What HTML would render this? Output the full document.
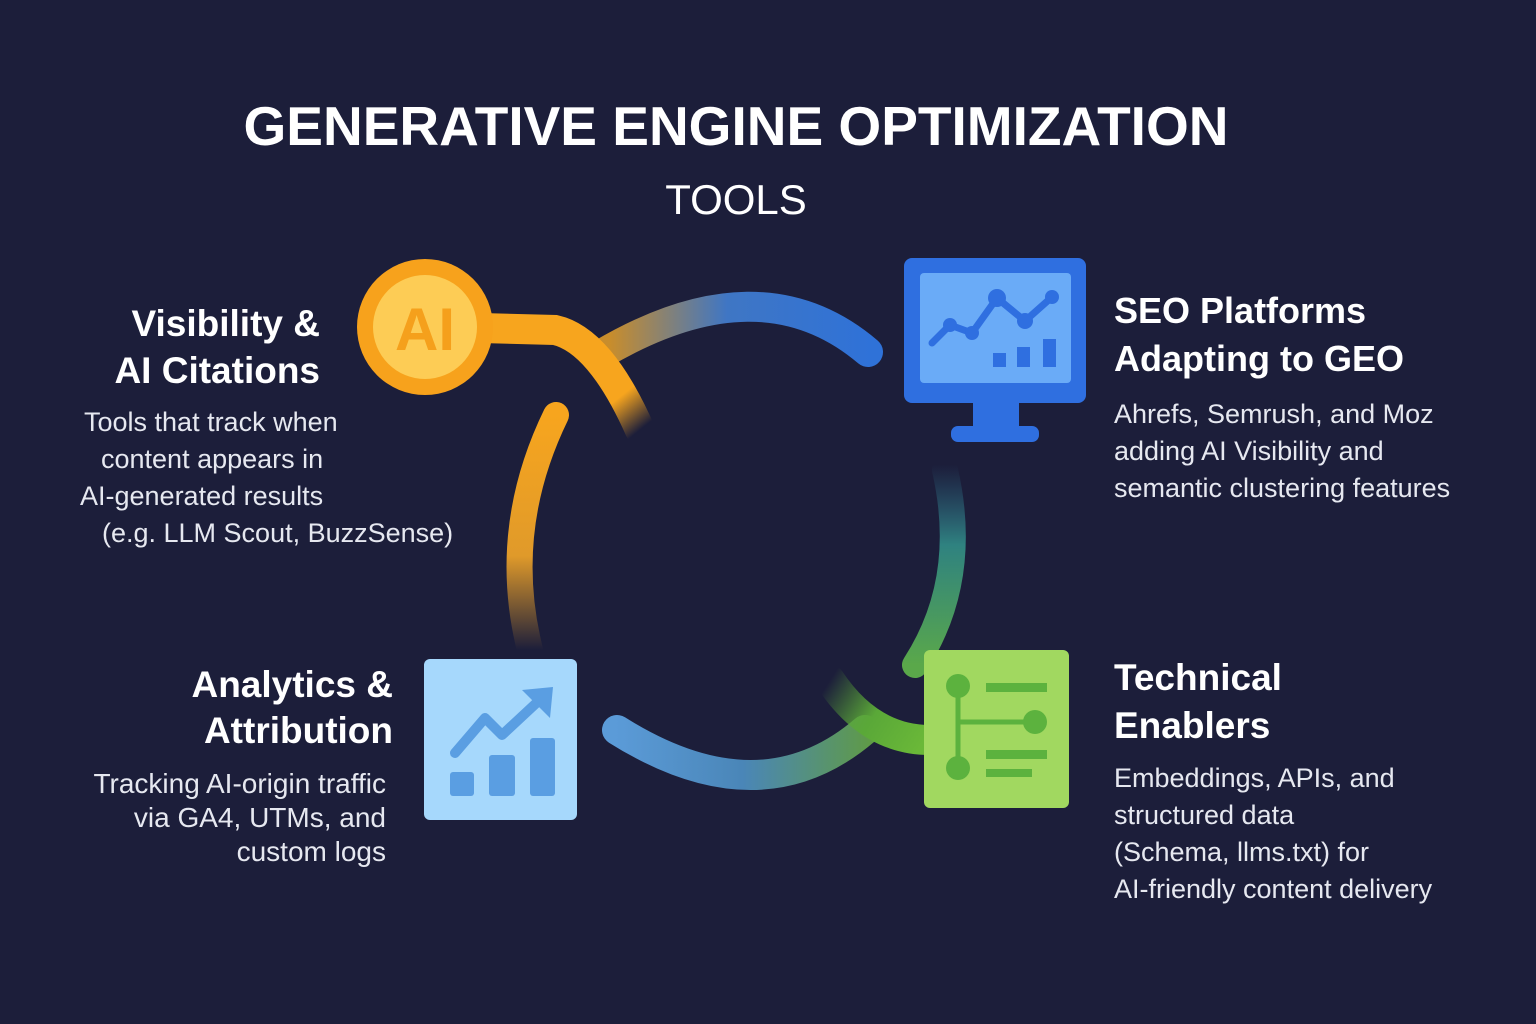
<!DOCTYPE html>
<html><head><meta charset="utf-8"><style>
html,body{margin:0;padding:0;background:#1c1e3a;}
#c{position:relative;width:1536px;height:1024px;overflow:hidden;background:#1c1e3a;font-family:"Liberation Sans",sans-serif;color:#fff;}
.t{position:absolute;white-space:nowrap;}
</style></head><body><div id="c">
<svg width="1536" height="1024" style="position:absolute;left:0;top:0">
<defs>
<linearGradient id="g1" gradientUnits="userSpaceOnUse" x1="560" y1="330" x2="640" y2="430"><stop offset="0" stop-color="#f7a51e"/><stop offset="0.7" stop-color="#f7a51e"/><stop offset="1" stop-color="#f7a51e" stop-opacity="0"/></linearGradient>
<linearGradient id="g2" gradientUnits="userSpaceOnUse" x1="610" y1="0" x2="870" y2="0"><stop offset="0" stop-color="#c88d2c"/><stop offset="0.45" stop-color="#3f76c4"/><stop offset="1" stop-color="#2f72d8"/></linearGradient>
<linearGradient id="g3" gradientUnits="userSpaceOnUse" x1="0" y1="415" x2="0" y2="650"><stop offset="0" stop-color="#f7a51e"/><stop offset="0.6" stop-color="#e09a2a"/><stop offset="1" stop-color="#e09a2a" stop-opacity="0"/></linearGradient>
<linearGradient id="g4" gradientUnits="userSpaceOnUse" x1="0" y1="465" x2="0" y2="665"><stop offset="0" stop-color="#2e6a8a" stop-opacity="0"/><stop offset="0.4" stop-color="#2f8280"/><stop offset="1" stop-color="#5aa84a"/></linearGradient>
<linearGradient id="g5" gradientUnits="userSpaceOnUse" x1="615" y1="0" x2="870" y2="0"><stop offset="0" stop-color="#5b9bd8"/><stop offset="0.5" stop-color="#4a86b8"/><stop offset="1" stop-color="#5f9a48"/></linearGradient>
<linearGradient id="g6" gradientUnits="userSpaceOnUse" x1="830" y1="680" x2="925" y2="740"><stop offset="0" stop-color="#5aa838" stop-opacity="0"/><stop offset="0.5" stop-color="#5aa838"/><stop offset="1" stop-color="#6ab838"/></linearGradient>
</defs>
<g fill="none" stroke-linecap="round" stroke-width="30">
<path d="M600 355 Q760 260 868 352" stroke="url(#g2)"/>
<path d="M480 328 L555 330 Q600 340 640 430" stroke="url(#g1)"/>
<path d="M556 415 Q500 530 530 650" stroke="url(#g3)" stroke-width="26"/>
<path d="M945 470 Q970 580 915 665" stroke="url(#g4)" stroke-width="26"/>
<path d="M617 730 Q760 820 865 730" stroke="url(#g5)"/>
<path d="M830 680 Q870 740 930 740" stroke="url(#g6)"/>
</g>
<circle cx="425" cy="327" r="68" fill="#f7a21c"/>
<circle cx="425" cy="327" r="52" fill="#fdcc55"/>
<text x="425" y="350" text-anchor="middle" font-family="Liberation Sans" font-weight="bold" font-size="60" fill="#f5a01c">AI</text>
<rect x="904" y="258" width="182" height="145" rx="8" fill="#2f6fe0"/>
<rect x="920" y="273" width="151" height="110" rx="4" fill="#6aabf7"/>
<rect x="973" y="403" width="46" height="28" fill="#2f6fe0"/>
<rect x="951" y="426" width="88" height="16" rx="7" fill="#2f6fe0"/>
<polyline points="932,343 950,325 972,333 997,298 1025,321 1052,297" fill="none" stroke="#2f6fe0" stroke-width="7" stroke-linecap="round" stroke-linejoin="round"/>
<g fill="#2f6fe0"><circle cx="950" cy="325" r="7"/><circle cx="972" cy="333" r="7"/><circle cx="997" cy="298" r="9"/><circle cx="1025" cy="321" r="8"/><circle cx="1052" cy="297" r="7"/>
<rect x="993" y="353" width="13" height="14"/><rect x="1017" y="347" width="13" height="20"/><rect x="1043" y="339" width="13" height="28"/></g>
<rect x="424" y="659" width="153" height="161" rx="6" fill="#a6d8fc"/>
<g fill="#5a9ee2"><rect x="450" y="772" width="24" height="24" rx="3"/><rect x="489" y="755" width="26" height="41" rx="3"/><rect x="530" y="738" width="25" height="58" rx="3"/></g>
<polyline points="455,753 485,718 502,735 545,695" fill="none" stroke="#5a9ee2" stroke-width="10" stroke-linecap="round" stroke-linejoin="round"/>
<polygon points="522,690 553,687 550,718" fill="#5a9ee2"/>
<rect x="924" y="650" width="145" height="158" rx="6" fill="#a1d860"/>
<g stroke="#5cb23e" stroke-width="5"><line x1="958" y1="686" x2="958" y2="768"/><line x1="958" y1="722" x2="1035" y2="722"/></g>
<g fill="#5cb23e"><circle cx="958" cy="686" r="12"/><circle cx="958" cy="768" r="12"/><circle cx="1035" cy="722" r="12"/>
<rect x="986" y="683" width="61" height="9"/><rect x="986" y="750" width="61" height="9"/><rect x="986" y="769" width="46" height="8"/></g>
</svg>
<div class="t" style="left:0;width:1472px;top:94px;text-align:center;font-size:55px;font-weight:bold;">GENERATIVE ENGINE OPTIMIZATION</div>
<div class="t" style="left:0;width:1472px;top:176px;text-align:center;font-size:42px">TOOLS</div>
<div class="t" style="right:1216px;top:300px;text-align:right;font-size:37px;font-weight:bold;line-height:47px">Visibility &amp;<br>AI Citations</div>
<div class="t" style="left:80px;top:404px;font-size:27px;line-height:37px;color:#e6e8f0"><span style="padding-left:4px">Tools that track when</span><br><span style="padding-left:21px">content appears in</span><br>AI-generated results<br><span style="padding-left:22px">(e.g. LLM Scout, BuzzSense)</span></div>
<div class="t" style="left:1114px;top:287px;font-size:36px;font-weight:bold;line-height:48px">SEO Platforms<br>Adapting to GEO</div>
<div class="t" style="left:1114px;top:396px;font-size:27px;line-height:37px;color:#e6e8f0">Ahrefs, Semrush, and Moz<br>adding AI Visibility and<br>semantic clustering features</div>
<div class="t" style="right:1143px;top:662px;text-align:right;font-size:37px;font-weight:bold;line-height:46px">Analytics &amp;<br>Attribution</div>
<div class="t" style="right:1150px;top:767px;text-align:right;font-size:28px;line-height:34px;color:#e6e8f0">Tracking AI-origin traffic<br>via GA4, UTMs, and<br>custom logs</div>
<div class="t" style="left:1114px;top:654px;font-size:37px;font-weight:bold;line-height:48px">Technical<br>Enablers</div>
<div class="t" style="left:1114px;top:760px;font-size:27px;line-height:37px;color:#e6e8f0">Embeddings, APIs, and<br>structured data<br>(Schema, llms.txt) for<br>AI-friendly content delivery</div>
</div></body></html>
